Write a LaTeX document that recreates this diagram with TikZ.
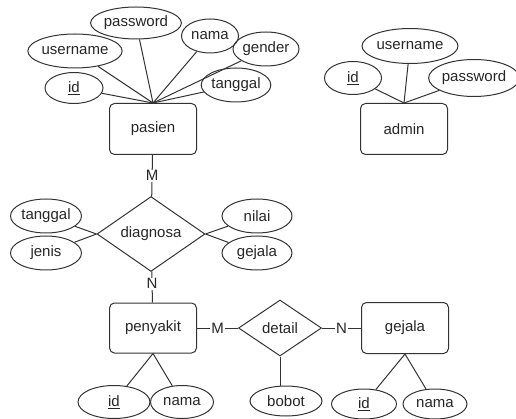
\documentclass[tikz,border=0pt]{standalone}
\usepackage{fontspec}
\setmainfont{Liberation Sans}
\usepackage{tikz}
\usetikzlibrary{positioning, shapes.geometric}

\begin{document}
\begin{tikzpicture}[x=1pt, y=-1pt, every node/.style={font=\fontsize{15}{17}\selectfont, text=black!85}]

  \tikzstyle{entity}=[rounded corners=5pt, draw=black!80, line width=1pt, minimum width=87pt, minimum height=51pt, inner sep=0pt]
  \tikzstyle{attr}=[ellipse, draw=black!80, line width=1pt, minimum height=34pt, inner sep=0pt]
  \tikzstyle{rel}=[diamond, draw=black!80, line width=1pt, inner sep=0pt]
  \tikzstyle{link}=[draw=black!80, line width=1pt]
  \tikzstyle{card}=[fill=white, inner sep=1pt]

  \useasboundingbox (0,0) rectangle (516,419);

  % pasien
  \node [entity] (pasien) at (153,129) {pasien};
  \node [attr, minimum width=58pt, minimum height=31pt] (pas-id) at (74,88) {\underline{id}};
  \node [attr, minimum width=86pt] (pas-user) at (75,51) {username};
  \node [attr, minimum width=87pt, minimum height=32pt] (pas-pass) at (136,23) {password};
  \node [attr, minimum width=57pt] (pas-nama) at (210,36) {nama};
  \node [attr, minimum width=58pt] (pas-gender) at (266,49) {gender};
  \node [attr, minimum width=65pt] (pas-tgl) at (236,85) {tanggal};

  % admin
  \node [entity] (admin) at (404,129) {admin};
  \node [attr, minimum width=57pt, minimum height=33pt] (adm-id) at (353,78) {\underline{id}};
  \node [attr, minimum width=96pt, minimum height=35pt] (adm-user) at (410,46) {username};
  \node [attr, minimum width=83pt, minimum height=37pt] (adm-pass) at (474,78) {password};

  % diagnosa
  \node [rel, minimum width=108pt, minimum height=58pt] (diagnosa) at (151,234) {diagnosa};
  \node [attr, minimum width=71pt] (dia-tgl) at (46,216) {tanggal};
  \node [attr, minimum width=71pt] (dia-jenis) at (46,253) {jenis};
  \node [attr, minimum width=70pt] (dia-nilai) at (257,216) {nilai};
  \node [attr, minimum width=70pt] (dia-gejala) at (257,253) {gejala};

  % penyakit, detail, gejala
  \node [entity, minimum height=50pt] (penyakit) at (153,328) {penyakit};
  \node [rel, minimum width=83pt, minimum height=56pt] (detail) at (280,328) {detail};
  \node [entity] (gejala) at (405,328) {gejala};

  \node [attr, minimum width=72pt, minimum height=33pt] (pen-id) at (114,402) {\underline{id}};
  \node [attr, minimum width=63pt, minimum height=33pt] (pen-nama) at (182,402) {nama};
  \node [attr, minimum width=72pt, minimum height=30pt] (det-bobot) at (286,401) {bobot};
  \node [attr, minimum width=65pt, minimum height=30pt] (gej-id) at (364,404) {\underline{id}};
  \node [attr, minimum width=64pt, minimum height=30pt] (gej-nama) at (435,404) {nama};

  \foreach \a in {pas-id, pas-user, pas-pass, pas-nama, pas-gender, pas-tgl}
    \draw [link] (\a) -- (pasien.north);
  \foreach \a in {adm-id, adm-user, adm-pass}
    \draw [link] (\a) -- (admin.north);
  \foreach \a in {dia-tgl, dia-jenis}
    \draw [link] (\a) -- (diagnosa.west);
  \foreach \a in {dia-nilai, dia-gejala}
    \draw [link] (\a) -- (diagnosa.east);
  \foreach \a in {pen-id, pen-nama}
    \draw [link] (penyakit.south) -- (\a);
  \foreach \a in {gej-id, gej-nama}
    \draw [link] (gejala.south) -- (\a);
  \draw [link] (detail.south) -- (det-bobot.north -| detail.south);

  \draw [link] (pasien) -- (diagnosa) node[card, midway] {M};
  \draw [link] (diagnosa) -- (penyakit) node[card, pos=0.4] {N};
  \draw [link] (penyakit) -- (detail) node[card, midway] {M};
  \draw [link] (detail) -- (gejala) node[card, midway] {N};

\end{tikzpicture}
\end{document}
